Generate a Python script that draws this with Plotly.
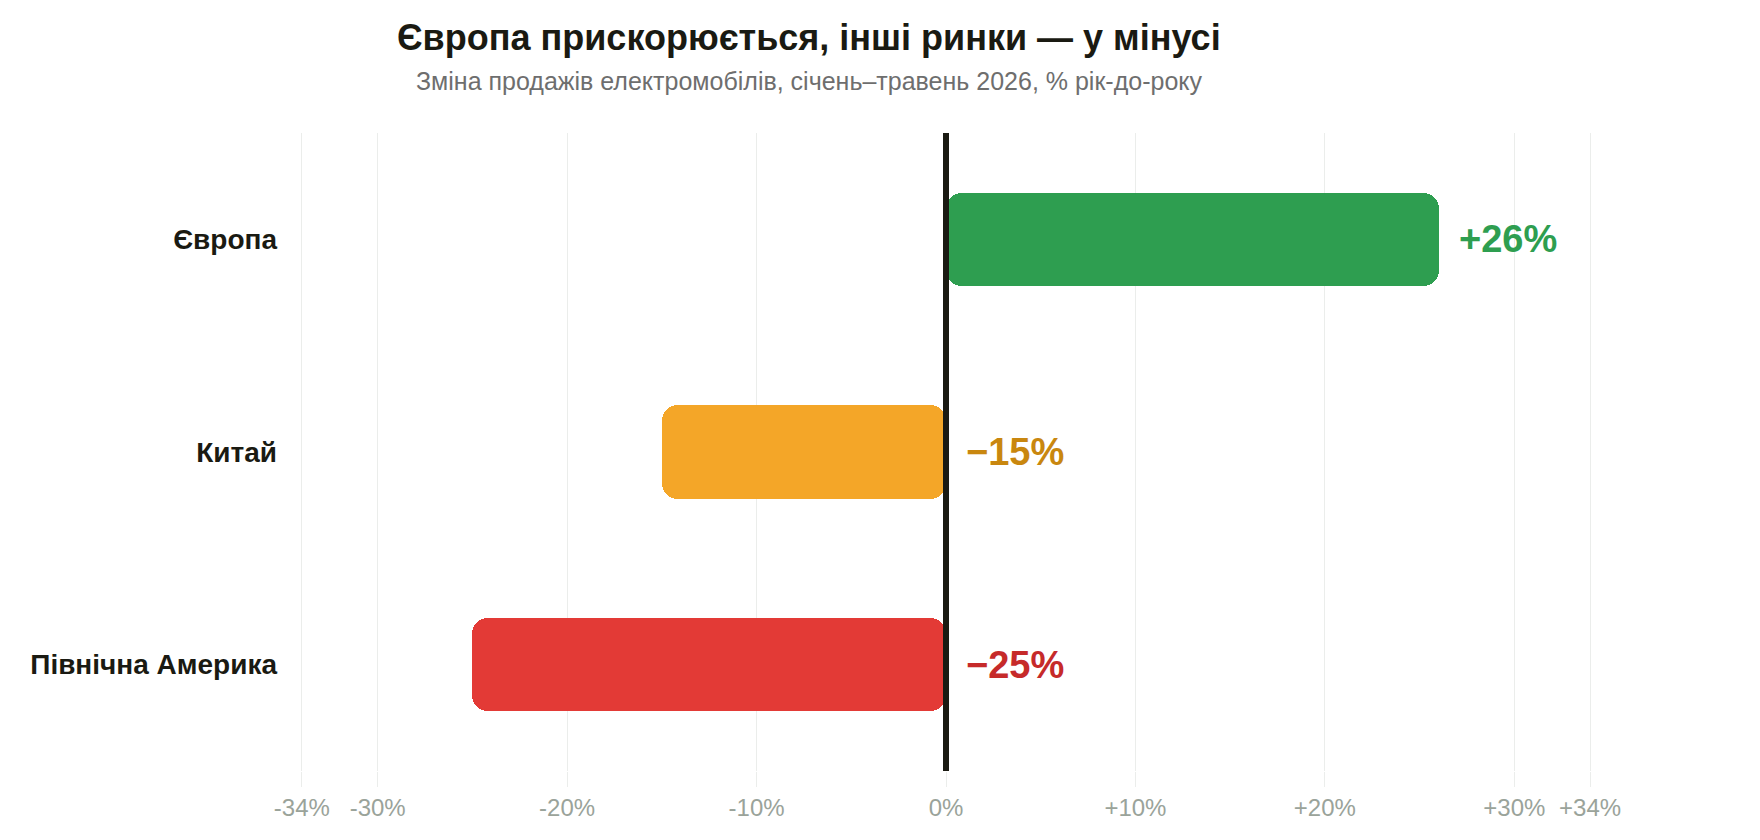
import plotly.graph_objects as go

# ---- data ----
regions = ["Європа", "Китай", "Північна Америка"]
changes = [26, -15, -25]
value_labels = ["+26%", "−15%", "−25%"]
bar_colors = ["#2E9E50", "#F4A628", "#E33A36"]
label_colors = ["#2E9E50", "#C9870F", "#C62A2A"]
tick_vals = [-34, -30, -20, -10, 0, 10, 20, 30, 34]
tick_text = ["-34%", "-30%", "-20%", "-10%", "0%", "+10%", "+20%", "+30%", "+34%"]

title = "Європа прискорюється, інші ринки — у мінусі"
subtitle = "Зміна продажів електромобілів, січень–травень 2026, % рік-до-року"

FONT = "Liberation Sans, Arial, sans-serif"
DARK = "#1a1a12"
GRID = "#ebedeb"

fig = go.Figure()

# Two overlapping halves per bar so both ends get rounded corners
outer_base = [0.45 * v for v in changes]
outer_len = [0.55 * v for v in changes]
inner_base = [0.55 * v for v in changes]
inner_len = [-0.55 * v for v in changes]

for b, L in ((outer_base, outer_len), (inner_base, inner_len)):
    fig.add_trace(go.Bar(
        y=regions, x=L, base=b, orientation="h",
        marker=dict(color=bar_colors, line=dict(width=0), cornerradius=16),
        width=0.44, hoverinfo="skip", showlegend=False,
    ))

# value labels
for r, v, t, c in zip(regions, changes, value_labels, label_colors):
    fig.add_annotation(
        x=max(v, 0), y=r, xref="x", yref="y", text=t, showarrow=False,
        xanchor="left", yanchor="middle", xshift=18,
        font=dict(family=FONT, size=38, color=c, weight="bold"),
    )

# zero line above bars
fig.add_shape(type="line", xref="x", yref="paper", x0=0, x1=0, y0=0, y1=1,
              line=dict(color=DARK, width=6), layer="above")

# title and subtitle
fig.add_annotation(
    x=(809 - 300) / 1292, y=1.150, xref="paper", yref="paper",
    text=title, showarrow=False, xanchor="center", yanchor="middle",
    font=dict(family=FONT, size=36, color=DARK, weight="bold"),
)
fig.add_annotation(
    x=(809 - 300) / 1292, y=1.0809, xref="paper", yref="paper",
    text=subtitle, showarrow=False, xanchor="center", yanchor="middle",
    font=dict(family=FONT, size=25, color="#6e6e6e"),
)

fig.update_layout(
    width=1760, height=840,
    margin=dict(l=300, r=168, t=133, b=69, pad=0),
    paper_bgcolor="white", plot_bgcolor="white",
    barmode="overlay", bargap=0,
    font=dict(family=FONT),
    showlegend=False,
)
fig.update_xaxes(
    range=[-34.1, 34.1], tickvals=tick_vals, ticktext=tick_text,
    showgrid=True, gridcolor=GRID, gridwidth=1, zeroline=False,
    ticks="outside", ticklen=15, tickcolor=GRID, tickwidth=1,
    tickfont=dict(family=FONT, size=24, color="#9aa39a"),
    showline=False, fixedrange=True,
)
fig.update_yaxes(
    range=[2.5, -0.5], type="category",
    showgrid=False, zeroline=False, showline=False, ticks="",
    ticklabelstandoff=22,
    tickfont=dict(family=FONT, size=28, color=DARK, weight="bold"),
    fixedrange=True,
)

fig.write_html("out.html", config={"displayModeBar": False})
